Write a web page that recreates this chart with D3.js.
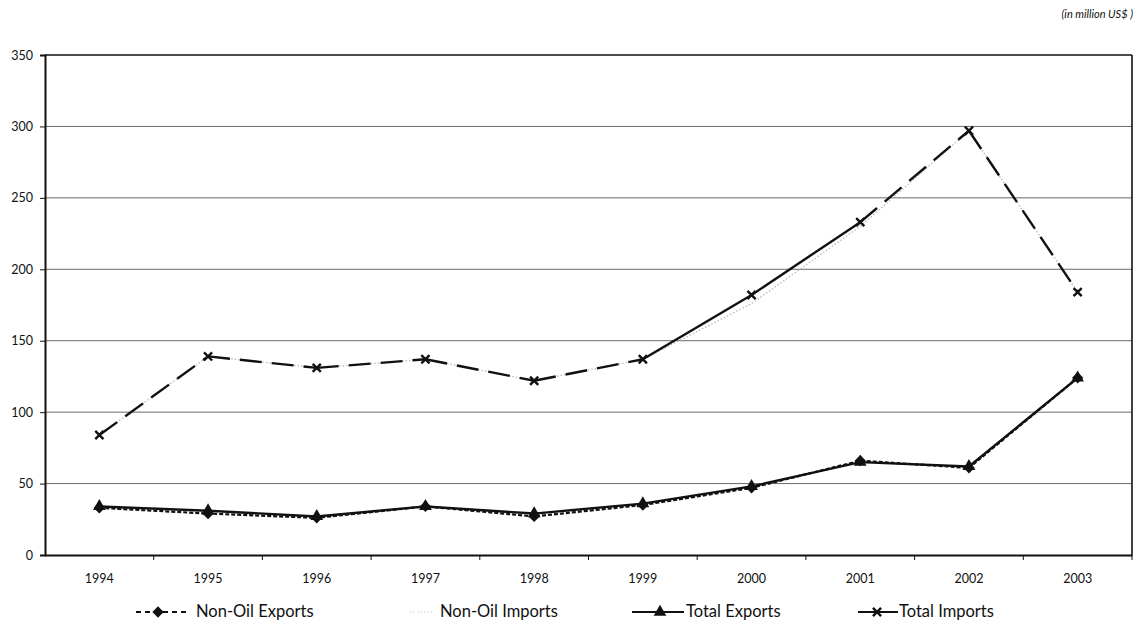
<!DOCTYPE html>
<html>
<head>
<meta charset="utf-8">
<script src="https://cdn.jsdelivr.net/npm/d3@7"></script>
<style>
  html, body { margin: 0; padding: 0; background: #fff; }
  svg { display: block; }
  text { font-family: Lato, "Open Sans", sans-serif; fill: #111; }
</style>
</head>
<body>
<svg id="chart" width="1138" height="624"></svg>
<script>
// Trade values, million US$
const years = ["1994","1995","1996","1997","1998","1999","2000","2001","2002","2003"];
const nonOilExports = [33, 29, 26, 34, 27, 35, 47, 66, 61, 124];
const nonOilImports = [84, 139, 131, 137, 122, 137, 176, 230, 297, 184];
const totalExports  = [34, 31, 27, 34, 29, 36, 48, 65, 62, 124];
const totalImports  = [84, 139, 131, 137, 122, 137, 182, 233, 297, 184];
const yTicks = [0, 50, 100, 150, 200, 250, 300, 350];
const seriesNames = ["Non-Oil Exports", "Non-Oil Imports", "Total Exports", "Total Imports"];

const svg = d3.select("#chart");
const m = { left: 45, right: 1132, top: 55, bottom: 555 };

const x = d3.scaleBand().domain(years).range([m.left, m.right]);
const y = d3.scaleLinear().domain([0, 350]).range([m.bottom, m.top]);
const cx = d => x(d) + x.bandwidth() / 2;

// gridlines
svg.append("g").selectAll("line")
  .data(yTicks.filter(t => t > 0 && t < 350))
  .join("line")
  .attr("x1", m.left).attr("x2", m.right)
  .attr("y1", d => y(d)).attr("y2", d => y(d))
  .attr("stroke", "#6a6a6a").attr("stroke-width", 1);

// frame: top and right edges
svg.append("line").attr("x1", m.left).attr("x2", m.right)
  .attr("y1", y(350)).attr("y2", y(350)).attr("stroke", "#111").attr("stroke-width", 1.6);
svg.append("line").attr("x1", m.right).attr("x2", m.right)
  .attr("y1", y(350)).attr("y2", y(0)).attr("stroke", "#111").attr("stroke-width", 1.6);

// y axis
const yAxis = svg.append("g").attr("transform", `translate(${m.left},0)`)
  .call(d3.axisLeft(y).tickValues(yTicks).tickSize(5).tickPadding(7));
yAxis.select(".domain").attr("stroke", "#111").attr("stroke-width", 2);
yAxis.selectAll(".tick line").attr("stroke", "#111");
yAxis.selectAll("text").attr("font-size", 12.5)
  .style("font-family", "Lato, sans-serif").attr("fill", "#000");

// x axis with ticks between categories
const xAxis = svg.append("g").attr("transform", `translate(0,${m.bottom})`)
  .call(d3.axisBottom(x).tickSize(0).tickPadding(19));
xAxis.select(".domain").attr("stroke", "#111").attr("stroke-width", 2);
xAxis.selectAll("text").attr("font-size", 12.5)
  .style("font-family", "Lato, sans-serif").attr("fill", "#000");
svg.append("g").selectAll("line")
  .data(years.slice(1).concat(["end"]))
  .join("line")
  .attr("x1", (d, i) => x(years[0]) + x.step() * (i + 1))
  .attr("x2", (d, i) => x(years[0]) + x.step() * (i + 1))
  .attr("y1", m.bottom).attr("y2", m.bottom + 5)
  .attr("stroke", "#111").attr("stroke-width", 1);

// unit note
svg.append("text").attr("x", 1133).attr("y", 18).attr("text-anchor", "end")
  .attr("font-size", 11).attr("font-style", "italic").text("(in million US$ )");

const line = d3.line().x((d, i) => cx(years[i])).y(d => y(d));

// Non-Oil Imports: faint grey dotted
svg.append("path").datum(nonOilImports).attr("d", line)
  .attr("fill", "none").attr("stroke", "#bdbdbd").attr("stroke-width", 1.4)
  .attr("stroke-dasharray", "1.5,2");

// Total Imports: long dashes, solid across 1999-2001
const solidSegments = [5, 6];
const segs = d3.pairs(totalImports.map((v, i) => [cx(years[i]), y(v)]));
svg.append("g").selectAll("line").data(segs).join("line")
  .attr("x1", d => d[0][0]).attr("y1", d => d[0][1])
  .attr("x2", d => d[1][0]).attr("y2", d => d[1][1])
  .attr("stroke", "#111").attr("stroke-width", 2.4)
  .attr("stroke-dasharray", (d, i) => solidSegments.includes(i) ? null : "22,10");

// Total Exports: solid
svg.append("path").datum(totalExports).attr("d", line)
  .attr("fill", "none").attr("stroke", "#111").attr("stroke-width", 2.4);

// Non-Oil Exports: short dashes
svg.append("path").datum(nonOilExports).attr("d", line)
  .attr("fill", "none").attr("stroke", "#111").attr("stroke-width", 2.2)
  .attr("stroke-dasharray", "4,2");

// markers
const cross = d3.symbol().type(d3.symbolTimes).size(45);
const tri = d3.symbol().type(d3.symbolTriangle).size(70);
const dia = d3.symbol().type(d3.symbolSquare).size(64);

svg.append("g").selectAll("path").data(totalImports).join("path")
  .attr("transform", (d, i) => `translate(${cx(years[i])},${y(d)})`)
  .attr("d", cross).attr("fill", "#111").attr("stroke", "#111").attr("stroke-width", 2.4);
svg.append("g").selectAll("path").data(totalExports).join("path")
  .attr("transform", (d, i) => `translate(${cx(years[i])},${y(d)})`)
  .attr("d", tri).attr("fill", "#111");
svg.append("g").selectAll("path").data(nonOilExports).join("path")
  .attr("transform", (d, i) => `translate(${cx(years[i])},${y(d)}) rotate(45)`)
  .attr("d", dia).attr("fill", "#111");

// legend
const ly = 612;
const lg = svg.append("g");
// Non-Oil Exports
lg.append("line").attr("x1", 136).attr("x2", 188).attr("y1", ly).attr("y2", ly)
  .attr("stroke", "#111").attr("stroke-width", 2).attr("stroke-dasharray", "5,4");
lg.append("path").attr("transform", `translate(158,${ly}) rotate(45)`).attr("d", dia).attr("fill", "#111");
// Non-Oil Imports
lg.append("line").attr("x1", 410).attr("x2", 432).attr("y1", ly).attr("y2", ly)
  .attr("stroke", "#cfcfcf").attr("stroke-width", 1.2).attr("stroke-dasharray", "1.5,2");
lg.append("path").attr("transform", `translate(421,${ly})`)
  .attr("d", d3.symbol().type(d3.symbolTimes).size(30)).attr("fill", "#d6d6d6");
// Total Exports
lg.append("line").attr("x1", 632).attr("x2", 684).attr("y1", ly).attr("y2", ly)
  .attr("stroke", "#111").attr("stroke-width", 2);
lg.append("path").attr("transform", `translate(660,${ly})`).attr("d", tri).attr("fill", "#111");
// Total Imports
lg.append("line").attr("x1", 858).attr("x2", 898).attr("y1", ly).attr("y2", ly)
  .attr("stroke", "#111").attr("stroke-width", 2);
lg.append("path").attr("transform", `translate(877,${ly})`).attr("d", cross)
  .attr("fill", "#111").attr("stroke", "#111").attr("stroke-width", 2.4);

const labelX = [196, 440, 686, 899];
lg.selectAll("text").data(seriesNames).join("text")
  .attr("x", (d, i) => labelX[i]).attr("y", ly + 5)
  .attr("font-size", 16.5).text(d => d);
</script>
</body>
</html>
